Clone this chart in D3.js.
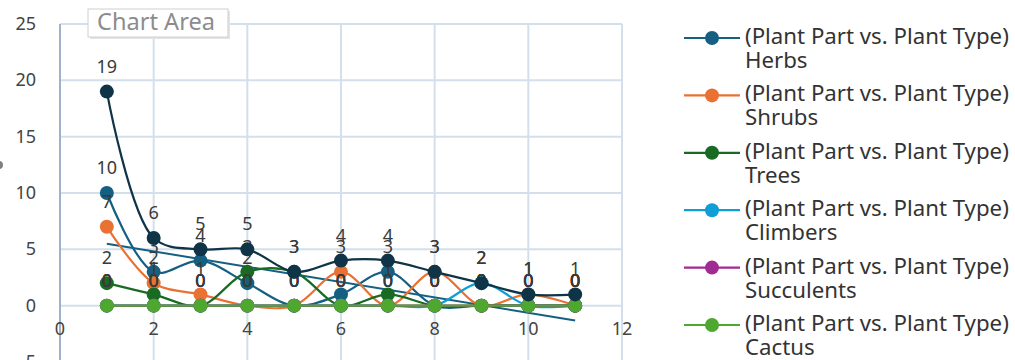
<!DOCTYPE html>
<html>
<head>
<meta charset="utf-8">
<script src="https://cdn.jsdelivr.net/npm/d3@7"></script>
<style>
  html, body { margin: 0; padding: 0; background: #ffffff; overflow: hidden; }
  svg { display: block; font-family: "Noto Sans", "Open Sans", sans-serif; }
</style>
</head>
<body>
<div id="chart"></div>
<script>
// x positions of the points (plant part index)
const xValues = [1, 2, 3, 4, 5, 6, 7, 8, 9, 10, 11];

const herbs      = [10, 3, 4, 2, 0, 1, 3, 0, 0, 0, 0];
const shrubs     = [7, 2, 1, 0, 0, 3, 0, 3, 0, 1, 0];
const trees      = [2, 1, 0, 3, 3, 0, 1, 0, 0, 0, 0];
const climbers   = [0, 0, 0, 0, 0, 0, 0, 0, 2, 0, 0];
const succulents = [0, 0, 0, 0, 0, 0, 0, 0, 0, 0, 0];
const cactus     = [0, 0, 0, 0, 0, 0, 0, 0, 0, 0, 0];
const total      = [19, 6, 5, 5, 3, 4, 4, 3, 2, 1, 1];

const seriesNames = ["Herbs", "Shrubs", "Trees", "Climbers", "Succulents", "Cactus", "Total"];
const seriesColors = ["#156082", "#e97132", "#196b24", "#0f9ed5", "#a02b93", "#4ea72e", "#0f3447"];
const seriesValues = [herbs, shrubs, trees, climbers, succulents, cactus, total];

const xTicks = [0, 2, 4, 6, 8, 10, 12];
const yTicks = [-5, 0, 5, 10, 15, 20, 25];

const width = 1015;
const height = 360;

const svg = d3.select("#chart")
  .append("svg")
  .attr("width", width)
  .attr("height", height);

const x = d3.scaleLinear().domain([0, 12]).range([60, 622]);
const y = d3.scaleLinear().domain([-5, 25]).range([362, 24]);

// gridlines
svg.append("g")
  .selectAll("line")
  .data(yTicks)
  .enter()
  .append("line")
  .attr("x1", x(0))
  .attr("x2", x(12))
  .attr("y1", d => y(d))
  .attr("y2", d => y(d))
  .attr("stroke", "#d3e0ec")
  .attr("stroke-width", 2);

svg.append("g")
  .selectAll("line")
  .data(xTicks.filter(d => d !== 0))
  .enter()
  .append("line")
  .attr("x1", d => x(d))
  .attr("x2", d => x(d))
  .attr("y1", y(25))
  .attr("y2", y(-5))
  .attr("stroke", "#d3e0ec")
  .attr("stroke-width", 2);

// vertical axis line at x = 0
svg.append("line")
  .attr("x1", x(0))
  .attr("x2", x(0))
  .attr("y1", y(25))
  .attr("y2", y(-5))
  .attr("stroke", "#9fb3c8")
  .attr("stroke-width", 2);

// tick labels
svg.append("g")
  .selectAll("text")
  .data(yTicks)
  .enter()
  .append("text")
  .attr("x", 36)
  .attr("y", d => y(d) + 6)
  .attr("text-anchor", "end")
  .attr("font-size", "18px")
  .attr("fill", "#444444")
  .text(d => d);

svg.append("g")
  .selectAll("text")
  .data(xTicks)
  .enter()
  .append("text")
  .attr("x", d => x(d))
  .attr("y", 335)
  .attr("text-anchor", "middle")
  .attr("font-size", "18px")
  .attr("fill", "#444444")
  .text(d => d);

const line = d3.line()
  .x(d => x(d.x))
  .y(d => y(d.y))
  .curve(d3.curveCatmullRom.alpha(0.5));

const plot = svg.append("g");

seriesValues.forEach((values, i) => {
  const points = values.map((v, j) => ({ x: xValues[j], y: v }));
  const g = plot.append("g");

  g.append("path")
    .datum(points)
    .attr("d", line)
    .attr("fill", "none")
    .attr("stroke", seriesColors[i])
    .attr("stroke-width", 2.2);

  g.selectAll("circle")
    .data(points)
    .enter()
    .append("circle")
    .attr("cx", d => x(d.x))
    .attr("cy", d => y(d.y))
    .attr("r", 7)
    .attr("fill", seriesColors[i]);

  g.selectAll("text")
    .data(points)
    .enter()
    .append("text")
    .attr("x", d => x(d.x))
    .attr("y", d => y(d.y) - 19)
    .attr("text-anchor", "middle")
    .attr("font-size", "18px")
    .attr("fill", "#3a3a3a")
    .text(d => d.y);

  // linear trendline for herbs
  if (i === 0) {
    const meanX = d3.mean(xValues);
    const meanY = d3.mean(values);
    const sxy = d3.sum(xValues, (xv, j) => (xv - meanX) * (values[j] - meanY));
    const sxx = d3.sum(xValues, xv => (xv - meanX) * (xv - meanX));
    const slope = sxy / sxx;
    const x0 = xValues[0];
    const x1 = xValues[xValues.length - 1];
    g.append("line")
      .attr("x1", x(x0))
      .attr("y1", y(meanY + slope * (x0 - meanX)))
      .attr("x2", x(x1))
      .attr("y2", y(meanY + slope * (x1 - meanX)))
      .attr("stroke", seriesColors[0])
      .attr("stroke-width", 2);
  }
});

// legend
const legend = svg.append("g");
const legendPrefix = "(Plant Part vs. Plant Type)";

seriesNames.forEach((name, i) => {
  const ly = 38 + i * 57.4;
  const item = legend.append("g");

  item.append("line")
    .attr("x1", 684)
    .attr("x2", 740)
    .attr("y1", ly)
    .attr("y2", ly)
    .attr("stroke", seriesColors[i])
    .attr("stroke-width", 2.2);

  item.append("circle")
    .attr("cx", 712)
    .attr("cy", ly)
    .attr("r", 7)
    .attr("fill", seriesColors[i]);

  const first = item.append("text")
    .attr("x", 745)
    .attr("y", ly + 6)
    .attr("font-size", "16px")
    .attr("fill", "#333333")
    .text(legendPrefix);

  const w = first.node().getComputedTextLength();
  const size = 16 * 264 / w;
  first.attr("font-size", size + "px");

  item.append("text")
    .attr("x", 745)
    .attr("y", ly + 30)
    .attr("font-size", size + "px")
    .attr("fill", "#333333")
    .text(name);
});

// "Chart Area" tooltip left over in the screenshot
svg.append("rect")
  .attr("x", 90)
  .attr("y", 11)
  .attr("width", 140)
  .attr("height", 28)
  .attr("fill", "#e4e4e4");

svg.append("rect")
  .attr("x", 88)
  .attr("y", 9)
  .attr("width", 140)
  .attr("height", 28)
  .attr("fill", "#ffffff")
  .attr("stroke", "#cfcfcf")
  .attr("stroke-width", 1);

const tip = svg.append("text")
  .attr("x", 97)
  .attr("y", 30)
  .attr("font-size", "18px")
  .attr("fill", "#8c8c8c")
  .text("Chart Area");

const tipW = tip.node().getComputedTextLength();
tip.attr("font-size", (18 * 118 / tipW) + "px");

svg.append("circle")
  .attr("cx", -1)
  .attr("cy", 165)
  .attr("r", 4)
  .attr("fill", "#808080");
</script>
</body>
</html>
